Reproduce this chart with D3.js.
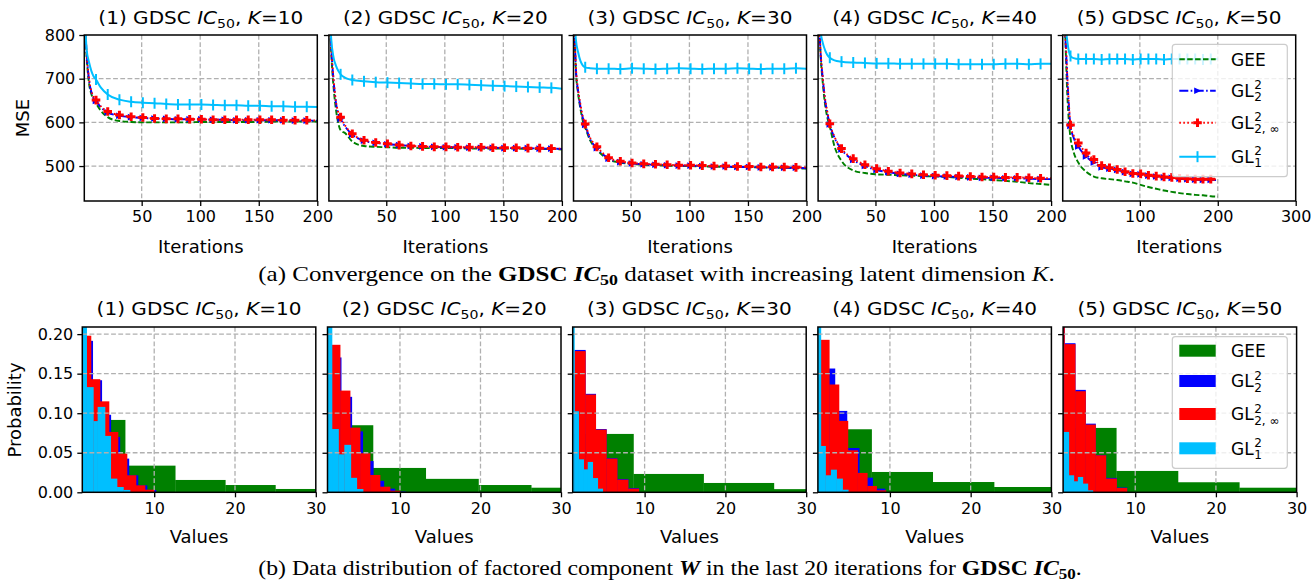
<!DOCTYPE html>
<html>
<head>
<meta charset="utf-8">
<script src="https://cdn.jsdelivr.net/npm/d3@7"></script>
<style>
  body { margin: 0; background: #fff; }
  text { font-family: "DejaVu Sans", sans-serif; fill: #000; }
  .serif { font-family: "Liberation Serif", "Times New Roman", serif; }
</style>
</head>
<body>
<svg id="chart" width="1315" height="585"></svg>
<script>
// ---- data ----
var ks = [10, 20, 30, 40, 50];
var iters = [1, 3, 5, 7, 9, 11, 15, 21, 31, 41, 51, 61, 71, 81, 91, 101, 111, 121, 131, 141, 151, 161, 171, 181, 191, 200];
var iterMax = [200, 200, 200, 200, 300];
var iterTicks = [[50, 100, 150, 200], [50, 100, 150, 200], [50, 100, 150, 200], [50, 100, 150, 200], [100, 200, 300]];
var mseRange = [420, 800];
var mseTicks = [500, 600, 700, 800];

// MSE per panel (K=10..50), one row per panel
var mseGEE = [
  [870, 750, 690, 665, 652, 643, 627, 612, 603, 601, 600, 600, 600, 600, 600, 601, 601, 601, 601, 601, 601, 602, 602, 602, 602, 602],
  [900, 760, 680, 630, 598, 582, 575, 556, 546, 544, 543, 542, 542, 541, 541, 541, 541, 540, 540, 540, 540, 540, 539, 539, 539, 538],
  [900, 720, 665, 630, 603, 588, 560, 538, 515, 508, 505, 503, 502, 501, 500, 500, 499, 499, 498, 498, 497, 497, 496, 496, 495, 494],
  [900, 760, 690, 640, 610, 590, 545, 512, 490, 484, 481, 480, 479, 478, 477, 476, 475, 473, 471, 470, 468, 466, 464, 461, 459, 457],
  [1000, 880, 760, 660, 600, 565, 532, 508, 487, 476, 472, 470, 468, 465, 462, 457, 452, 448, 444, 441, 438, 436, 434, 433, 431, 430]
];
var mseGL22 = [
  [860, 758, 698, 670, 656, 649, 635, 623, 615, 612, 610, 609, 608, 607, 607, 607, 606, 606, 605, 605, 605, 605, 605, 604, 604, 604],
  [900, 770, 695, 645, 620, 608, 590, 572, 558, 553, 550, 548, 546, 545, 544, 543, 543, 542, 542, 542, 541, 541, 541, 540, 540, 539],
  [900, 725, 670, 635, 610, 594, 563, 541, 517, 509, 506, 504, 503, 502, 501, 501, 500, 499, 499, 498, 498, 497, 497, 496, 496, 495],
  [900, 765, 700, 650, 620, 595, 565, 538, 514, 500, 491, 486, 482, 480, 478, 477, 476, 475, 474, 473, 473, 472, 472, 471, 470, 470],
  [1000, 850, 775, 700, 635, 592, 565, 545, 522, 508, 497, 494, 491, 486, 482, 481, 478, 476, 474, 473, 471, 470, 469, 468, 468, 468]
];
var mseGL2inf = [
  [860, 760, 700, 672, 658, 651, 637, 625, 617, 613, 611, 609, 608, 608, 607, 607, 606, 606, 606, 606, 606, 606, 605, 605, 605, 604],
  [900, 772, 698, 648, 623, 612, 592, 574, 559, 554, 551, 548, 546, 545, 544, 544, 543, 543, 543, 542, 542, 542, 541, 541, 540, 540],
  [900, 728, 674, 640, 612, 596, 566, 544, 519, 511, 507, 505, 504, 503, 502, 502, 501, 500, 500, 499, 499, 498, 498, 498, 497, 497],
  [900, 768, 703, 653, 623, 597, 567, 540, 517, 503, 494, 488, 484, 482, 480, 479, 478, 477, 476, 475, 475, 474, 474, 473, 472, 472],
  [1000, 852, 780, 702, 640, 594, 570, 553, 530, 515, 501, 496, 492, 487, 483, 482, 479, 477, 475, 474, 472, 471, 470, 470, 470, 470]
];
var mseGL1 = [
  [880, 766, 738, 718, 705, 698, 680, 664, 652, 647, 645, 644, 642, 641, 641, 641, 640, 639, 639, 638, 638, 637, 637, 636, 636, 635],
  [900, 790, 748, 730, 718, 710, 702, 697, 694, 692, 691, 690, 689, 688, 688, 687, 687, 686, 685, 684, 683, 682, 681, 680, 679, 677],
  [900, 790, 760, 740, 730, 726, 724, 723, 723, 722, 724, 723, 722, 723, 724, 723, 722, 723, 723, 724, 723, 722, 723, 723, 724, 723],
  [900, 812, 782, 765, 754, 748, 742, 739, 737, 736, 735, 735, 734, 734, 734, 734, 734, 733, 733, 733, 733, 734, 734, 733, 734, 734],
  [1000, 900, 820, 785, 762, 752, 747, 745, 745, 745, 744, 745, 745, 745, 744, 745, 745, 745, 744, 745, 745, 745, 745, 744, 745, 745]
];

// histogram bins (edges + probability density) per panel
var histXMin = [1.1, 1.0, 1.1, 1.08, 1.06];
var histXMax = 30;
var probMax = 0.209;
var probTicks = [0, 0.05, 0.10, 0.15, 0.20];
var valueTicks = [10, 20, 30];

var geeEdges = [[0.2, 6.4, 12.6, 18.8, 25.0, 31.2], [0.1, 6.65, 13.2, 19.75, 26.3, 32.85], [-0.06, 8.62, 17.3, 26.0, 34.7], [0.17, 7.73, 15.3, 22.9, 30.4], [0.0, 7.65, 15.3, 22.9, 30.6]];
var geeProb = [[0.0915, 0.0337, 0.0156, 0.0092, 0.0042], [0.0848, 0.0308, 0.017, 0.0092, 0.0058], [0.0738, 0.0232, 0.0118, 0.004], [0.0797, 0.0257, 0.013, 0.0067], [0.0814, 0.027, 0.0127, 0.0058]];

var gl22Edges = [[1.27, 2.39, 3.51, 4.63, 5.75, 6.87, 7.99, 9.11, 10.23], [1.37, 2.70, 4.02, 5.38, 6.69, 8.0, 9.37, 10.7], [1.31, 2.67, 3.95, 5.27, 6.6, 7.96, 9.28], [1.66, 3.19, 4.68, 6.2, 7.86, 9.39], [-0.05, 1.23, 2.56, 3.84, 5.08, 6.36, 7.69, 8.97]];
var gl22Prob = [[0.1915, 0.1417, 0.098, 0.07, 0.0426, 0.0215, 0.0088, 0.003], [0.1705, 0.1207, 0.077, 0.0395, 0.0145, 0.0046, 0.001], [0.1800, 0.1245, 0.0800, 0.0432, 0.0168, 0.0053], [0.1565, 0.1029, 0.056, 0.0185, 0.0046], [0.25, 0.1885, 0.1295, 0.0868, 0.0472, 0.0182, 0.006]];

var gl2infEdges = [[1.06, 2.175, 3.29, 4.405, 5.52, 6.635, 7.75, 8.865, 9.98], [1.33, 2.57, 3.81, 5.05, 6.29, 7.53, 8.77, 10.01], [1.31, 2.67, 3.95, 5.27, 6.6, 7.96, 9.28], [1.33, 2.49, 3.69, 4.80, 6.0, 7.2, 8.35, 9.51], [-0.05, 1.23, 2.56, 3.84, 5.08, 6.36, 7.69, 8.97]];
var gl2infProb = [[0.198, 0.143, 0.115, 0.0763, 0.049, 0.0215, 0.0088, 0.0033], [0.1865, 0.1286, 0.0818, 0.0494, 0.0219, 0.0071, 0.002], [0.1785, 0.1236, 0.0793, 0.0426, 0.016, 0.0046], [0.1928, 0.1363, 0.0903, 0.0531, 0.0245, 0.008, 0.0025], [0.25, 0.1873, 0.1278, 0.0856, 0.0468, 0.0173, 0.0054]];

var gl1Edges = [[1.0, 1.64, 2.47, 3.0, 3.91, 4.62, 5.40, 6.19, 7.01], [1.0, 1.56, 2.37, 3.09, 3.90, 4.64, 5.42], [1.0, 1.31, 1.84, 2.46, 2.96, 3.58, 4.20, 4.82], [1.0, 1.45, 2.03, 2.69, 3.40, 4.14, 4.84], [1.0, 1.77, 2.39, 2.89, 3.51, 4.13, 4.75]];
var gl1Prob = [[0.215, 0.133, 0.090, 0.108, 0.0713, 0.0173, 0.0067, 0.003], [0.215, 0.080, 0.048, 0.060, 0.0183, 0.0042], [0.215, 0.1025, 0.0417, 0.029, 0.0384, 0.018, 0.0046], [0.215, 0.0586, 0.0215, 0.0286, 0.0173, 0.0033], [0.0763, 0.0215, 0.0139, 0.0194, 0.011, 0.0025]];

// ---- drawing ----
var svg = d3.select('#chart');
var defs = svg.append('defs');

var GREEN = '#008000', BLUE = '#0000ff', RED = '#ff0000', CYAN = '#00bfff';
var GRID = '#b0b0b0';

var lineSeries = [
  { color: GREEN, dash: '5.5,2.4', marker: null, data: mseGEE },
  { color: BLUE, dash: '9,2.4,1.6,2.4', marker: 'tri', data: mseGL22 },
  { color: RED, dash: '1.6,2.4', marker: 'plus', data: mseGL2inf },
  { color: CYAN, dash: null, marker: 'vline', data: mseGL1 }
];
var histSeries = [
  { color: GREEN, edges: geeEdges, prob: geeProb },
  { color: BLUE, edges: gl22Edges, prob: gl22Prob },
  { color: RED, edges: gl2infEdges, prob: gl2infProb },
  { color: CYAN, edges: gl1Edges, prob: gl1Prob }
];

var TRI = 'M-3.3,-3.3L3.8,0L-3.3,3.3Z';
var PLUS = 'M-1.5,-4.3H1.5V-1.5H4.3V1.5H1.5V4.3H-1.5V1.5H-4.3V-1.5H-1.5Z';

function drawMarker(g, kind, color, x, y) {
  if (kind === 'tri') {
    g.append('path').attr('d', TRI).attr('transform', 'translate(' + x + ',' + y + ')').attr('fill', color);
  } else if (kind === 'plus') {
    g.append('path').attr('d', PLUS).attr('transform', 'translate(' + x + ',' + y + ')').attr('fill', color);
  } else if (kind === 'vline') {
    g.append('line').attr('x1', x).attr('x2', x).attr('y1', y - 5.5).attr('y2', y + 5.5)
      .attr('stroke', color).attr('stroke-width', 2);
  }
}

// stretch a text element horizontally so it spans the given width
function fitWidth(t, cx, width) {
  var w = t.node().getComputedTextLength();
  var s = width / w;
  t.attr('transform', 'translate(' + cx + ',0) scale(' + s + ',1) translate(' + (-cx) + ',0)');
}

function addTitle(cx, y, n, k) {
  var t = svg.append('text').attr('x', cx).attr('y', y).attr('text-anchor', 'middle').style('font-size', '18.5px');
  t.append('tspan').text('(' + n + ') GDSC ');
  t.append('tspan').style('font-style', 'italic').text('IC');
  t.append('tspan').attr('dy', 4).style('font-size', '13px').text('50');
  t.append('tspan').attr('dy', -4).text(', ');
  t.append('tspan').style('font-style', 'italic').text('K');
  t.append('tspan').text('=' + k);
  fitWidth(t, cx, 205);
}

function drawFrame(g, x0, y0, w, h) {
  g.append('rect').attr('x', x0).attr('y', y0).attr('width', w).attr('height', h)
    .attr('fill', 'none').attr('stroke', '#000').attr('stroke-width', 1.5);
}

function gridLines(g, x, y, xt, yt, x0, y0, w, h) {
  var grid = g.append('g').attr('class', 'grid');
  xt.forEach(function(v) {
    var px = x(v);
    if (px > x0 + 0.5 && px < x0 + w - 0.5) {
      grid.append('line').attr('x1', px).attr('x2', px).attr('y1', y0).attr('y2', y0 + h);
    }
  });
  yt.forEach(function(v) {
    var py = y(v);
    if (py > y0 + 0.5 && py < y0 + h - 0.5) {
      grid.append('line').attr('x1', x0).attr('x2', x0 + w).attr('y1', py).attr('y2', py);
    }
  });
  grid.selectAll('line').attr('stroke', GRID).attr('stroke-width', 1.3).attr('stroke-dasharray', '4.8,2.4');
  return grid;
}

function axesTicks(g, x, y, xt, yt, x0, y0, w, h, showY, yFmt) {
  var gx = g.append('g').attr('transform', 'translate(0,' + (y0 + h) + ')')
    .call(d3.axisBottom(x).tickValues(xt).tickSize(5).tickPadding(5).tickFormat(d3.format('d')));
  gx.select('.domain').remove();
  var gy = g.append('g').attr('transform', 'translate(' + x0 + ',0)')
    .call(d3.axisLeft(y).tickValues(yt).tickSize(5).tickPadding(4).tickFormat(showY ? yFmt : function() { return ''; }));
  gy.select('.domain').remove();
  g.selectAll('.tick line').attr('stroke', '#000').attr('stroke-width', 1.3);
  g.selectAll('.tick text').attr('fill', '#000').style('font-size', '16px').style('font-family', '"DejaVu Sans"');
}

// ---------- top row: convergence ----------
ks.forEach(function(k, i) {
  var x0 = 84.3 + i * 244.6, y0 = 35, w = 233, h = 166;
  var x = d3.scaleLinear().domain([1, iterMax[i]]).range([x0, x0 + w]);
  var y = d3.scaleLinear().domain(mseRange).range([y0 + h, y0]);
  var g = svg.append('g');
  g.append('rect').attr('x', x0).attr('y', y0).attr('width', w).attr('height', h).attr('fill', '#fff');
  defs.append('clipPath').attr('id', 'clipTop' + i).append('rect')
    .attr('x', x0).attr('y', y0).attr('width', w).attr('height', h);

  gridLines(g, x, y, iterTicks[i], mseTicks, x0, y0, w, h);

  var plot = g.append('g').attr('clip-path', 'url(#clipTop' + i + ')');
  var line = d3.line().x(function(d, j) { return x(iters[j]); }).y(function(d) { return y(d); })
    .curve(d3.curveMonotoneX);
  lineSeries.forEach(function(s) {
    var vals = s.data[i];
    var p = plot.append('path').attr('d', line(vals)).attr('fill', 'none')
      .attr('stroke', s.color).attr('stroke-width', s.dash ? 1.9 : 2);
    if (s.dash) p.attr('stroke-dasharray', s.dash);
    if (s.marker) {
      vals.forEach(function(v, j) {
        if ((iters[j] - 1) % 10 === 0) drawMarker(plot, s.marker, s.color, x(iters[j]), y(v));
      });
    }
  });

  drawFrame(g, x0, y0, w, h);
  axesTicks(g, x, y, iterTicks[i], mseTicks, x0, y0, w, h, i === 0, d3.format('d'));
  addTitle(x0 + w / 2, 24, i + 1, k);
  g.append('text').attr('x', x0 + w / 2).attr('y', 253).attr('text-anchor', 'middle')
    .style('font-size', '18px').text('Iterations');
});
svg.append('text').attr('transform', 'translate(28.5,118) rotate(-90)').attr('text-anchor', 'middle')
  .style('font-size', '18px').text('MSE');

// legend helpers
function legendLabel(g, x, y, sub) {
  if (!sub) {
    g.append('text').attr('x', x).attr('y', y + 6.3).style('font-size', '17px').text('GEE');
    return;
  }
  var t = g.append('text').attr('x', x).attr('y', y + 6.3).style('font-size', '17px').text('GL');
  var wd = t.node().getComputedTextLength();
  g.append('text').attr('x', x + wd + 0.5).attr('y', y - 1.5).style('font-size', '12px').text('2');
  g.append('text').attr('x', x + wd + 0.5).attr('y', y + 10.5).style('font-size', '12px').text(sub);
}
var legendSubs = [null, '2', '2, \u221e', '1'];

function legendBox(y0, y1) {
  var g = svg.append('g');
  g.append('rect').attr('x', 1172.3).attr('y', y0).attr('width', 115).attr('height', y1 - y0)
    .attr('rx', 3).attr('fill', '#fff').attr('fill-opacity', 0.8).attr('stroke', '#cccccc').attr('stroke-width', 1.2);
  return g;
}

var lgTop = legendBox(44.3, 176.7);
[59.3, 90.7, 122.7, 156.7].forEach(function(cy, j) {
  var s = lineSeries[j];
  var l = lgTop.append('line').attr('x1', 1179.3).attr('x2', 1215.7).attr('y1', cy).attr('y2', cy)
    .attr('stroke', s.color).attr('stroke-width', 1.9);
  if (s.dash) l.attr('stroke-dasharray', s.dash);
  if (s.marker) drawMarker(lgTop, s.marker, s.color, 1197.5, cy);
  legendLabel(lgTop, 1231, cy, legendSubs[j]);
});

// caption (a)
var capA = svg.append('text').attr('class', 'serif').attr('x', 656.5).attr('y', 281)
  .attr('text-anchor', 'middle').style('font-size', '21px');
capA.append('tspan').text('(a)  Convergence on the ');
capA.append('tspan').style('font-weight', 'bold').text('GDSC ');
capA.append('tspan').style('font-weight', 'bold').style('font-style', 'italic').text('IC');
capA.append('tspan').attr('dy', 4).style('font-weight', 'bold').style('font-size', '15px').text('50');
capA.append('tspan').attr('dy', -4).text(' dataset with increasing latent dimension ');
capA.append('tspan').style('font-style', 'italic').text('K');
capA.append('tspan').text('.');
fitWidth(capA, 656.5, 797);
svg.append('rect').attr('x', 0).attr('y', 286).attr('width', 1315).attr('height', 10).attr('fill', '#fff');

// ---------- bottom row: histograms ----------
ks.forEach(function(k, i) {
  var x0 = 82.3 + i * 245.2, y0 = 327, w = 233.5, h = 165.3;
  var x = d3.scaleLinear().domain([histXMin[i], histXMax]).range([x0, x0 + w]);
  var y = d3.scaleLinear().domain([0, probMax]).range([y0 + h, y0]);
  var g = svg.append('g');
  g.append('rect').attr('x', x0).attr('y', y0).attr('width', w).attr('height', h).attr('fill', '#fff');
  defs.append('clipPath').attr('id', 'clipBot' + i).append('rect')
    .attr('x', x0).attr('y', y0).attr('width', w).attr('height', h);

  var plot = g.append('g').attr('clip-path', 'url(#clipBot' + i + ')');
  histSeries.forEach(function(s) {
    var edges = s.edges[i];
    plot.append('g').selectAll('rect').data(s.prob[i]).enter().append('rect')
      .attr('x', function(d, j) { return x(edges[j]); })
      .attr('width', function(d, j) { return x(edges[j + 1]) - x(edges[j]) + 0.3; })
      .attr('y', function(d) { return y(d); })
      .attr('height', function(d) { return y(0) - y(d); })
      .attr('fill', s.color);
  });

  gridLines(g, x, y, valueTicks, probTicks, x0, y0, w, h);
  drawFrame(g, x0, y0, w, h);
  axesTicks(g, x, y, valueTicks, probTicks, x0, y0, w, h, i === 0, d3.format('.2f'));
  addTitle(x0 + w / 2, 315, i + 1, k);
  g.append('text').attr('x', x0 + w / 2).attr('y', 543).attr('text-anchor', 'middle')
    .style('font-size', '18px').text('Values');
});
svg.append('text').attr('transform', 'translate(21,410) rotate(-90)').attr('text-anchor', 'middle')
  .style('font-size', '18px').text('Probability');

var lgBot = legendBox(336.7, 468.3);
[350.7, 381, 414, 448.3].forEach(function(cy, j) {
  lgBot.append('rect').attr('x', 1179.3).attr('y', cy - 6).attr('width', 36.4).attr('height', 12)
    .attr('fill', histSeries[j].color);
  legendLabel(lgBot, 1231, cy, legendSubs[j]);
});

// caption (b)
var capB = svg.append('text').attr('class', 'serif').attr('x', 670).attr('y', 575)
  .attr('text-anchor', 'middle').style('font-size', '21px');
capB.append('tspan').text('(b)  Data distribution of factored component ');
capB.append('tspan').style('font-weight', 'bold').style('font-style', 'italic').text('W');
capB.append('tspan').text(' in the last 20 iterations for ');
capB.append('tspan').style('font-weight', 'bold').text('GDSC ');
capB.append('tspan').style('font-weight', 'bold').style('font-style', 'italic').text('IC');
capB.append('tspan').attr('dy', 4).style('font-weight', 'bold').style('font-size', '15px').text('50');
capB.append('tspan').attr('dy', -4).text('.');
fitWidth(capB, 670, 824);
</script>
</body>
</html>
